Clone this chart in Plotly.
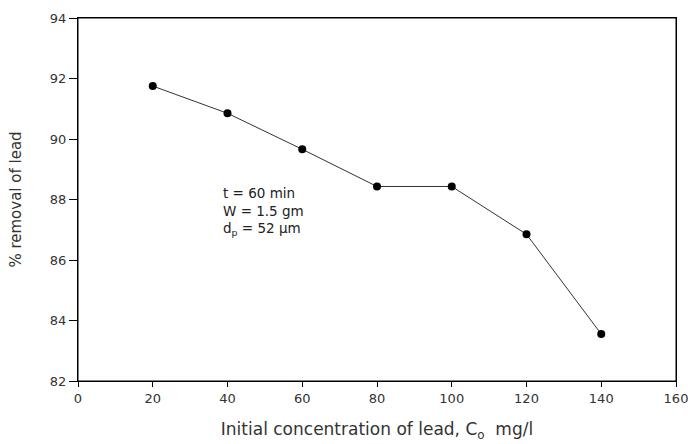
import plotly.graph_objects as go

conc = [20, 40, 60, 80, 100, 120, 140]
removal = [91.75, 90.85, 89.66, 88.43, 88.43, 86.85, 83.55]
x_ticks = [0, 20, 40, 60, 80, 100, 120, 140, 160]
y_ticks = [82, 84, 86, 88, 90, 92, 94]

FONT = "DejaVu Sans, Verdana, sans-serif"

fig = go.Figure()
fig.add_trace(go.Scatter(
    x=conc, y=removal, mode="lines+markers",
    line=dict(color="#333333", width=1),
    marker=dict(color="black", size=8),
    showlegend=False,
))

fig.add_annotation(
    x=38.3, y=88.56, xref="x", yref="y", xanchor="left", yanchor="top",
    align="left", showarrow=False,
    text="t = 60 min<br>W = 1.5 gm<br>d<sub>p</sub> = 52 µm",
    font=dict(family=FONT, color="#222222", size=13.5),
)

# plot frame
fig.add_shape(type="rect", xref="paper", yref="paper", x0=0, x1=1, y0=0, y1=1,
              line=dict(color="black", width=1), layer="above")

fig.update_layout(
    width=688, height=444,
    margin=dict(l=78, r=12, t=18, b=63),
    paper_bgcolor="white", plot_bgcolor="white",
    font=dict(family=FONT, color="#333333", size=13),
)
fig.update_xaxes(
    range=[0, 160], tickvals=x_ticks, showgrid=False, zeroline=False,
    showline=True, linecolor="black", linewidth=1, mirror=True,
    ticks="outside", ticklen=5, tickcolor="black", automargin=False,
    ticklabeloverflow="allow",
    title=dict(text="Initial concentration of lead, C<sub>o</sub>  mg/l", standoff=18,
               font=dict(size=17)),
)
fig.update_yaxes(
    range=[82, 94], tickvals=y_ticks, showgrid=False, zeroline=False,
    showline=True, linecolor="black", linewidth=1, mirror=True,
    ticks="outside", ticklen=8, tickcolor="black", automargin=False,
    ticklabeloverflow="allow",
    title=dict(text="% removal of lead", standoff=24, font=dict(size=15)),
)

# remove the default page margin so the 688x444 figure fills the window exactly
fig.write_html(
    "out.html",
    config={"displayModeBar": False},
    post_script="document.documentElement.style.margin='0';"
                "document.body.style.margin='0';"
                "document.documentElement.style.overflow='hidden';"
                "document.body.style.overflow='hidden';",
)
